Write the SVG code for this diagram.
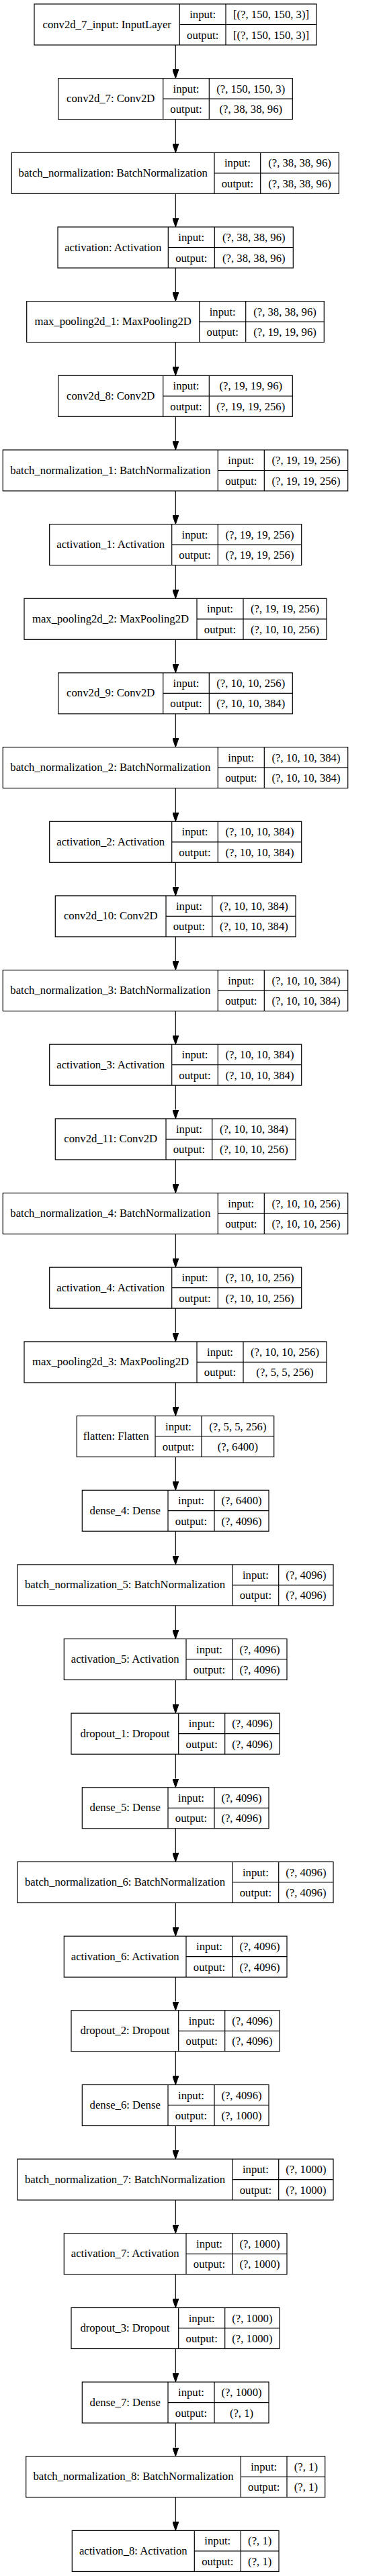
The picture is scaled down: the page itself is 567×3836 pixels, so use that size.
<svg xmlns="http://www.w3.org/2000/svg" width="567" height="3836" viewBox="0 0 567 3836">
<style>
.node rect{fill:#fff;stroke:#000;stroke-width:1.2}
.node path{fill:none;stroke:#000;stroke-width:1.2}
text{font-family:"Liberation Serif","Times New Roman",serif;font-size:16.7px;text-anchor:middle;fill:#000}
.edges path{fill:none;stroke:#000;stroke-width:1.2}
</style>
<defs>
<marker id="ah" markerUnits="userSpaceOnUse" markerWidth="13.3" markerHeight="9.3" viewBox="0 0 13.3 9.3" refX="0" refY="4.65" orient="auto"><path d="M0 0L13.3 4.65L0 9.3z" fill="#000" stroke="#000" stroke-width="1"/></marker>
</defs>
<rect x="0" y="0" width="567" height="3836" fill="#fff"/>
<g class="edges">
<path marker-end="url(#ah)" d="M261.3 67V103.4"/>
<path marker-end="url(#ah)" d="M261.3 177.7V214"/>
<path marker-end="url(#ah)" d="M261.3 288.3V324.7"/>
<path marker-end="url(#ah)" d="M261.3 399V435.3"/>
<path marker-end="url(#ah)" d="M261.3 509.6V546"/>
<path marker-end="url(#ah)" d="M261.3 620.3V656.7"/>
<path marker-end="url(#ah)" d="M261.3 731V767.3"/>
<path marker-end="url(#ah)" d="M261.3 841.6V878"/>
<path marker-end="url(#ah)" d="M261.3 952.3V988.6"/>
<path marker-end="url(#ah)" d="M261.3 1062.9V1099.3"/>
<path marker-end="url(#ah)" d="M261.3 1173.6V1210"/>
<path marker-end="url(#ah)" d="M261.3 1284.3V1320.6"/>
<path marker-end="url(#ah)" d="M261.3 1394.9V1431.3"/>
<path marker-end="url(#ah)" d="M261.3 1505.6V1541.9"/>
<path marker-end="url(#ah)" d="M261.3 1616.2V1652.6"/>
<path marker-end="url(#ah)" d="M261.3 1726.9V1763.3"/>
<path marker-end="url(#ah)" d="M261.3 1837.6V1873.9"/>
<path marker-end="url(#ah)" d="M261.3 1948.2V1984.6"/>
<path marker-end="url(#ah)" d="M261.3 2058.9V2095.2"/>
<path marker-end="url(#ah)" d="M261.3 2169.5V2205.9"/>
<path marker-end="url(#ah)" d="M261.3 2280.2V2316.6"/>
<path marker-end="url(#ah)" d="M261.3 2390.9V2427.2"/>
<path marker-end="url(#ah)" d="M261.3 2501.5V2537.9"/>
<path marker-end="url(#ah)" d="M261.3 2612.2V2648.5"/>
<path marker-end="url(#ah)" d="M261.3 2722.8V2759.2"/>
<path marker-end="url(#ah)" d="M261.3 2833.5V2869.9"/>
<path marker-end="url(#ah)" d="M261.3 2944.2V2980.5"/>
<path marker-end="url(#ah)" d="M261.3 3054.8V3091.2"/>
<path marker-end="url(#ah)" d="M261.3 3165.5V3201.8"/>
<path marker-end="url(#ah)" d="M261.3 3276.1V3312.5"/>
<path marker-end="url(#ah)" d="M261.3 3386.8V3423.2"/>
<path marker-end="url(#ah)" d="M261.3 3497.5V3533.8"/>
<path marker-end="url(#ah)" d="M261.3 3608.1V3644.5"/>
<path marker-end="url(#ah)" d="M261.3 3718.8V3755.1"/>
</g>

<g id="conv2d_7_input" class="node" transform="translate(0,6)">
<rect x="51" y="0" width="420" height="61"/><path d="M267.3 0V61M336 0V61M267.3 30.5H471"/>
<text x="159.2" y="35.5">conv2d_7_input: InputLayer</text>
<text x="301.7" y="21">input:</text><text x="403.5" y="21">[(?, 150, 150, 3)]</text>
<text x="301.7" y="51.5">output:</text><text x="403.5" y="51.5">[(?, 150, 150, 3)]</text>
</g>

<g id="conv2d_7" class="node" transform="translate(0,116.7)">
<rect x="86.7" y="0" width="348.6" height="61"/><path d="M242.7 0V61M311.3 0V61M242.7 30.5H435.3"/>
<text x="164.7" y="35.5">conv2d_7: Conv2D</text>
<text x="277" y="21">input:</text><text x="373.3" y="21">(?, 150, 150, 3)</text>
<text x="277" y="51.5">output:</text><text x="373.3" y="51.5">(?, 38, 38, 96)</text>
</g>

<g id="batch_normalization" class="node" transform="translate(0,227.3)">
<rect x="17.3" y="0" width="487" height="61"/><path d="M319 0V61M387.7 0V61M319 30.5H504.3"/>
<text x="168.2" y="35.5">batch_normalization: BatchNormalization</text>
<text x="353.4" y="21">input:</text><text x="446" y="21">(?, 38, 38, 96)</text>
<text x="353.4" y="51.5">output:</text><text x="446" y="51.5">(?, 38, 38, 96)</text>
</g>

<g id="activation" class="node" transform="translate(0,338)">
<rect x="86" y="0" width="350.3" height="61"/><path d="M250.3 0V61M319.3 0V61M250.3 30.5H436.3"/>
<text x="168.2" y="35.5">activation: Activation</text>
<text x="284.8" y="21">input:</text><text x="377.8" y="21">(?, 38, 38, 96)</text>
<text x="284.8" y="51.5">output:</text><text x="377.8" y="51.5">(?, 38, 38, 96)</text>
</g>

<g id="max_pooling2d_1" class="node" transform="translate(0,448.6)">
<rect x="39.7" y="0" width="442.6" height="61"/><path d="M296.7 0V61M365.7 0V61M296.7 30.5H482.3"/>
<text x="168.2" y="35.5">max_pooling2d_1: MaxPooling2D</text>
<text x="331.2" y="21">input:</text><text x="424" y="21">(?, 38, 38, 96)</text>
<text x="331.2" y="51.5">output:</text><text x="424" y="51.5">(?, 19, 19, 96)</text>
</g>

<g id="conv2d_8" class="node" transform="translate(0,559.3)">
<rect x="86.7" y="0" width="348.6" height="61"/><path d="M242.7 0V61M311.3 0V61M242.7 30.5H435.3"/>
<text x="164.7" y="35.5">conv2d_8: Conv2D</text>
<text x="277" y="21">input:</text><text x="373.3" y="21">(?, 19, 19, 96)</text>
<text x="277" y="51.5">output:</text><text x="373.3" y="51.5">(?, 19, 19, 256)</text>
</g>

<g id="batch_normalization_1" class="node" transform="translate(0,670)">
<rect x="4.3" y="0" width="513.4" height="61"/><path d="M324.3 0V61M393.3 0V61M324.3 30.5H517.7"/>
<text x="164.3" y="35.5">batch_normalization_1: BatchNormalization</text>
<text x="358.8" y="21">input:</text><text x="455.5" y="21">(?, 19, 19, 256)</text>
<text x="358.8" y="51.5">output:</text><text x="455.5" y="51.5">(?, 19, 19, 256)</text>
</g>

<g id="activation_1" class="node" transform="translate(0,780.6)">
<rect x="73.7" y="0" width="375" height="61"/><path d="M255.7 0V61M324.3 0V61M255.7 30.5H448.7"/>
<text x="164.7" y="35.5">activation_1: Activation</text>
<text x="290" y="21">input:</text><text x="386.5" y="21">(?, 19, 19, 256)</text>
<text x="290" y="51.5">output:</text><text x="386.5" y="51.5">(?, 19, 19, 256)</text>
</g>

<g id="max_pooling2d_2" class="node" transform="translate(0,891.3)">
<rect x="36" y="0" width="450" height="61"/><path d="M293 0V61M362 0V61M293 30.5H486"/>
<text x="164.5" y="35.5">max_pooling2d_2: MaxPooling2D</text>
<text x="327.5" y="21">input:</text><text x="424" y="21">(?, 19, 19, 256)</text>
<text x="327.5" y="51.5">output:</text><text x="424" y="51.5">(?, 10, 10, 256)</text>
</g>

<g id="conv2d_9" class="node" transform="translate(0,1001.9)">
<rect x="86.7" y="0" width="348.6" height="61"/><path d="M242.7 0V61M311.3 0V61M242.7 30.5H435.3"/>
<text x="164.7" y="35.5">conv2d_9: Conv2D</text>
<text x="277" y="21">input:</text><text x="373.3" y="21">(?, 10, 10, 256)</text>
<text x="277" y="51.5">output:</text><text x="373.3" y="51.5">(?, 10, 10, 384)</text>
</g>

<g id="batch_normalization_2" class="node" transform="translate(0,1112.6)">
<rect x="4.3" y="0" width="513.4" height="61"/><path d="M324.3 0V61M393.3 0V61M324.3 30.5H517.7"/>
<text x="164.3" y="35.5">batch_normalization_2: BatchNormalization</text>
<text x="358.8" y="21">input:</text><text x="455.5" y="21">(?, 10, 10, 384)</text>
<text x="358.8" y="51.5">output:</text><text x="455.5" y="51.5">(?, 10, 10, 384)</text>
</g>

<g id="activation_2" class="node" transform="translate(0,1223.3)">
<rect x="73.7" y="0" width="375" height="61"/><path d="M255.7 0V61M324.3 0V61M255.7 30.5H448.7"/>
<text x="164.7" y="35.5">activation_2: Activation</text>
<text x="290" y="21">input:</text><text x="386.5" y="21">(?, 10, 10, 384)</text>
<text x="290" y="51.5">output:</text><text x="386.5" y="51.5">(?, 10, 10, 384)</text>
</g>

<g id="conv2d_10" class="node" transform="translate(0,1333.9)">
<rect x="82.3" y="0" width="357.7" height="61"/><path d="M247 0V61M315.7 0V61M247 30.5H440"/>
<text x="164.7" y="35.5">conv2d_10: Conv2D</text>
<text x="281.4" y="21">input:</text><text x="377.9" y="21">(?, 10, 10, 384)</text>
<text x="281.4" y="51.5">output:</text><text x="377.9" y="51.5">(?, 10, 10, 384)</text>
</g>

<g id="batch_normalization_3" class="node" transform="translate(0,1444.6)">
<rect x="4.3" y="0" width="513.4" height="61"/><path d="M324.3 0V61M393.3 0V61M324.3 30.5H517.7"/>
<text x="164.3" y="35.5">batch_normalization_3: BatchNormalization</text>
<text x="358.8" y="21">input:</text><text x="455.5" y="21">(?, 10, 10, 384)</text>
<text x="358.8" y="51.5">output:</text><text x="455.5" y="51.5">(?, 10, 10, 384)</text>
</g>

<g id="activation_3" class="node" transform="translate(0,1555.2)">
<rect x="73.7" y="0" width="375" height="61"/><path d="M255.7 0V61M324.3 0V61M255.7 30.5H448.7"/>
<text x="164.7" y="35.5">activation_3: Activation</text>
<text x="290" y="21">input:</text><text x="386.5" y="21">(?, 10, 10, 384)</text>
<text x="290" y="51.5">output:</text><text x="386.5" y="51.5">(?, 10, 10, 384)</text>
</g>

<g id="conv2d_11" class="node" transform="translate(0,1665.9)">
<rect x="82.3" y="0" width="357.7" height="61"/><path d="M247 0V61M315.7 0V61M247 30.5H440"/>
<text x="164.7" y="35.5">conv2d_11: Conv2D</text>
<text x="281.4" y="21">input:</text><text x="377.9" y="21">(?, 10, 10, 384)</text>
<text x="281.4" y="51.5">output:</text><text x="377.9" y="51.5">(?, 10, 10, 256)</text>
</g>

<g id="batch_normalization_4" class="node" transform="translate(0,1776.6)">
<rect x="4.3" y="0" width="513.4" height="61"/><path d="M324.3 0V61M393.3 0V61M324.3 30.5H517.7"/>
<text x="164.3" y="35.5">batch_normalization_4: BatchNormalization</text>
<text x="358.8" y="21">input:</text><text x="455.5" y="21">(?, 10, 10, 256)</text>
<text x="358.8" y="51.5">output:</text><text x="455.5" y="51.5">(?, 10, 10, 256)</text>
</g>

<g id="activation_4" class="node" transform="translate(0,1887.2)">
<rect x="73.7" y="0" width="375" height="61"/><path d="M255.7 0V61M324.3 0V61M255.7 30.5H448.7"/>
<text x="164.7" y="35.5">activation_4: Activation</text>
<text x="290" y="21">input:</text><text x="386.5" y="21">(?, 10, 10, 256)</text>
<text x="290" y="51.5">output:</text><text x="386.5" y="51.5">(?, 10, 10, 256)</text>
</g>

<g id="max_pooling2d_3" class="node" transform="translate(0,1997.9)">
<rect x="36" y="0" width="450" height="61"/><path d="M293 0V61M362 0V61M293 30.5H486"/>
<text x="164.5" y="35.5">max_pooling2d_3: MaxPooling2D</text>
<text x="327.5" y="21">input:</text><text x="424" y="21">(?, 10, 10, 256)</text>
<text x="327.5" y="51.5">output:</text><text x="424" y="51.5">(?, 5, 5, 256)</text>
</g>

<g id="flatten" class="node" transform="translate(0,2108.5)">
<rect x="114.3" y="0" width="293.4" height="61"/><path d="M231 0V61M300 0V61M231 30.5H407.7"/>
<text x="172.7" y="35.5">flatten: Flatten</text>
<text x="265.5" y="21">input:</text><text x="353.9" y="21">(?, 5, 5, 256)</text>
<text x="265.5" y="51.5">output:</text><text x="353.9" y="51.5">(?, 6400)</text>
</g>

<g id="dense_4" class="node" transform="translate(0,2219.2)">
<rect x="122.3" y="0" width="277.7" height="61"/><path d="M250 0V61M319 0V61M250 30.5H400"/>
<text x="186.2" y="35.5">dense_4: Dense</text>
<text x="284.5" y="21">input:</text><text x="359.5" y="21">(?, 6400)</text>
<text x="284.5" y="51.5">output:</text><text x="359.5" y="51.5">(?, 4096)</text>
</g>

<g id="batch_normalization_5" class="node" transform="translate(0,2329.9)">
<rect x="26" y="0" width="470" height="61"/><path d="M346 0V61M414.7 0V61M346 30.5H496"/>
<text x="186" y="35.5">batch_normalization_5: BatchNormalization</text>
<text x="380.4" y="21">input:</text><text x="455.4" y="21">(?, 4096)</text>
<text x="380.4" y="51.5">output:</text><text x="455.4" y="51.5">(?, 4096)</text>
</g>

<g id="activation_5" class="node" transform="translate(0,2440.5)">
<rect x="95.3" y="0" width="331.7" height="61"/><path d="M277 0V61M346 0V61M277 30.5H427"/>
<text x="186.2" y="35.5">activation_5: Activation</text>
<text x="311.5" y="21">input:</text><text x="386.5" y="21">(?, 4096)</text>
<text x="311.5" y="51.5">output:</text><text x="386.5" y="51.5">(?, 4096)</text>
</g>

<g id="dropout_1" class="node" transform="translate(0,2551.2)">
<rect x="106" y="0" width="310" height="61"/><path d="M265.7 0V61M334.7 0V61M265.7 30.5H416"/>
<text x="185.9" y="35.5">dropout_1: Dropout</text>
<text x="300.2" y="21">input:</text><text x="375.4" y="21">(?, 4096)</text>
<text x="300.2" y="51.5">output:</text><text x="375.4" y="51.5">(?, 4096)</text>
</g>

<g id="dense_5" class="node" transform="translate(0,2661.8)">
<rect x="122.3" y="0" width="277.7" height="61"/><path d="M250 0V61M319 0V61M250 30.5H400"/>
<text x="186.2" y="35.5">dense_5: Dense</text>
<text x="284.5" y="21">input:</text><text x="359.5" y="21">(?, 4096)</text>
<text x="284.5" y="51.5">output:</text><text x="359.5" y="51.5">(?, 4096)</text>
</g>

<g id="batch_normalization_6" class="node" transform="translate(0,2772.5)">
<rect x="26" y="0" width="470" height="61"/><path d="M346 0V61M414.7 0V61M346 30.5H496"/>
<text x="186" y="35.5">batch_normalization_6: BatchNormalization</text>
<text x="380.4" y="21">input:</text><text x="455.4" y="21">(?, 4096)</text>
<text x="380.4" y="51.5">output:</text><text x="455.4" y="51.5">(?, 4096)</text>
</g>

<g id="activation_6" class="node" transform="translate(0,2883.2)">
<rect x="95.3" y="0" width="331.7" height="61"/><path d="M277 0V61M346 0V61M277 30.5H427"/>
<text x="186.2" y="35.5">activation_6: Activation</text>
<text x="311.5" y="21">input:</text><text x="386.5" y="21">(?, 4096)</text>
<text x="311.5" y="51.5">output:</text><text x="386.5" y="51.5">(?, 4096)</text>
</g>

<g id="dropout_2" class="node" transform="translate(0,2993.8)">
<rect x="106" y="0" width="310" height="61"/><path d="M265.7 0V61M334.7 0V61M265.7 30.5H416"/>
<text x="185.9" y="35.5">dropout_2: Dropout</text>
<text x="300.2" y="21">input:</text><text x="375.4" y="21">(?, 4096)</text>
<text x="300.2" y="51.5">output:</text><text x="375.4" y="51.5">(?, 4096)</text>
</g>

<g id="dense_6" class="node" transform="translate(0,3104.5)">
<rect x="122.3" y="0" width="277.7" height="61"/><path d="M250 0V61M319 0V61M250 30.5H400"/>
<text x="186.2" y="35.5">dense_6: Dense</text>
<text x="284.5" y="21">input:</text><text x="359.5" y="21">(?, 4096)</text>
<text x="284.5" y="51.5">output:</text><text x="359.5" y="51.5">(?, 1000)</text>
</g>

<g id="batch_normalization_7" class="node" transform="translate(0,3215.1)">
<rect x="26" y="0" width="470" height="61"/><path d="M346 0V61M414.7 0V61M346 30.5H496"/>
<text x="186" y="35.5">batch_normalization_7: BatchNormalization</text>
<text x="380.4" y="21">input:</text><text x="455.4" y="21">(?, 1000)</text>
<text x="380.4" y="51.5">output:</text><text x="455.4" y="51.5">(?, 1000)</text>
</g>

<g id="activation_7" class="node" transform="translate(0,3325.8)">
<rect x="95.3" y="0" width="331.7" height="61"/><path d="M277 0V61M346 0V61M277 30.5H427"/>
<text x="186.2" y="35.5">activation_7: Activation</text>
<text x="311.5" y="21">input:</text><text x="386.5" y="21">(?, 1000)</text>
<text x="311.5" y="51.5">output:</text><text x="386.5" y="51.5">(?, 1000)</text>
</g>

<g id="dropout_3" class="node" transform="translate(0,3436.5)">
<rect x="106" y="0" width="310" height="61"/><path d="M265.7 0V61M334.7 0V61M265.7 30.5H416"/>
<text x="185.9" y="35.5">dropout_3: Dropout</text>
<text x="300.2" y="21">input:</text><text x="375.4" y="21">(?, 1000)</text>
<text x="300.2" y="51.5">output:</text><text x="375.4" y="51.5">(?, 1000)</text>
</g>

<g id="dense_7" class="node" transform="translate(0,3547.1)">
<rect x="122.3" y="0" width="277.7" height="61"/><path d="M250 0V61M319 0V61M250 30.5H400"/>
<text x="186.2" y="35.5">dense_7: Dense</text>
<text x="284.5" y="21">input:</text><text x="359.5" y="21">(?, 1000)</text>
<text x="284.5" y="51.5">output:</text><text x="359.5" y="51.5">(?, 1)</text>
</g>

<g id="batch_normalization_8" class="node" transform="translate(0,3657.8)">
<rect x="38.7" y="0" width="445" height="61"/><path d="M358.3 0V61M427 0V61M358.3 30.5H483.7"/>
<text x="198.5" y="35.5">batch_normalization_8: BatchNormalization</text>
<text x="392.7" y="21">input:</text><text x="455.4" y="21">(?, 1)</text>
<text x="392.7" y="51.5">output:</text><text x="455.4" y="51.5">(?, 1)</text>
</g>

<g id="activation_8" class="node" transform="translate(0,3768.4)">
<rect x="107.3" y="0" width="307.7" height="61"/><path d="M289.3 0V61M358.3 0V61M289.3 30.5H415"/>
<text x="198.3" y="35.5">activation_8: Activation</text>
<text x="323.8" y="21">input:</text><text x="386.7" y="21">(?, 1)</text>
<text x="323.8" y="51.5">output:</text><text x="386.7" y="51.5">(?, 1)</text>
</g>
</svg>
